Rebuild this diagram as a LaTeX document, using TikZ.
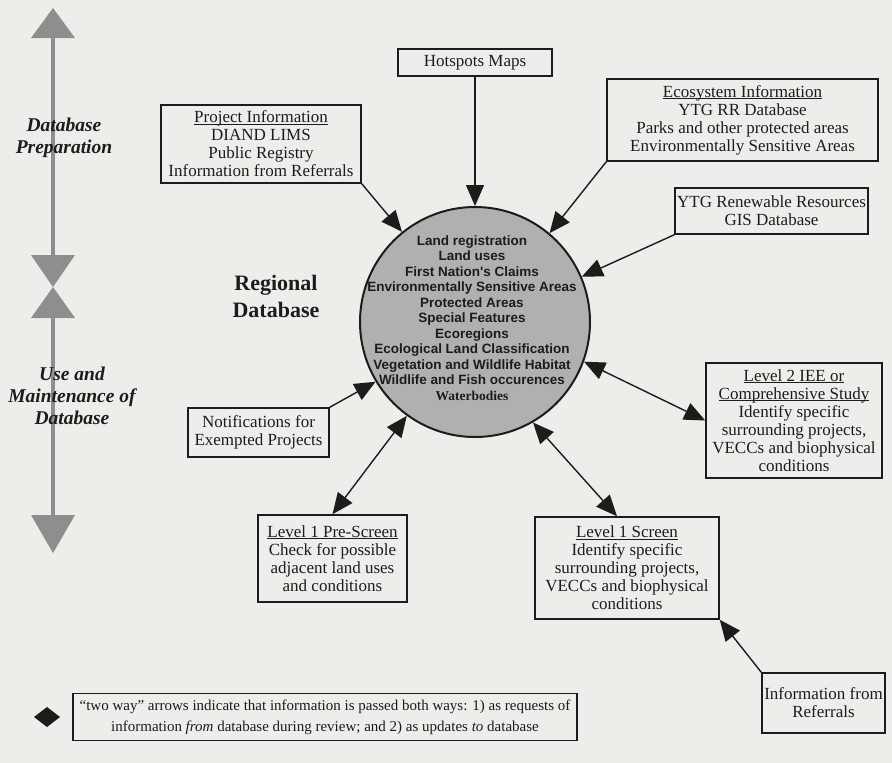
\documentclass[tikz,border=0pt]{standalone}
\usepackage{fontspec}
\setmainfont{Liberation Serif}
\newfontfamily\dbfont{Liberation Sans}
\usetikzlibrary{arrows.meta}
\definecolor{paper}{HTML}{EEEDE9}
\definecolor{ink}{HTML}{1C1C1C}
\definecolor{dbgray}{HTML}{B0B0B0}
\definecolor{axisgray}{HTML}{8E8E8E}
% underline sitting close to the baseline, not below the descenders
\newcommand\headline[1]{\setbox0\hbox{#1}\leavevmode\rlap{\rule[-1.6pt]{\wd0}{0.8pt}}\box0}
\begin{document}
\begin{tikzpicture}[x=1pt,y=-1pt,
  infobox/.style={draw=ink, line width=1.5pt, align=center, inner sep=0pt, text=ink,
    font=\fontsize{17}{18}\selectfont},
  link/.style={draw=ink, line width=1.4pt, -{Triangle[length=21pt,width=18pt]}},
  twoway/.style={draw=ink, line width=1.4pt,
    {Triangle[length=21pt,width=18pt]}-{Triangle[length=21pt,width=18pt]}},
  phase/.style={font=\fontsize{19.5}{22}\selectfont\bfseries\itshape, align=center, text=ink},
  axisline/.style={draw=axisgray, line width=4pt},
  axishead/.style={fill=axisgray},
]
\useasboundingbox (0,0) rectangle (892,763);
\fill[paper] (0,0) rectangle (892,763);

% phase axis on the left
\fill[axishead] (31,38) -- (53,8) -- (75,38) -- cycle;
\draw[axisline] (53,38) -- (53,255);
\fill[axishead] (31,255) -- (75,255) -- (53,287) -- cycle;
\fill[axishead] (53,287) -- (75,318) -- (31,318) -- cycle;
\draw[axisline] (53,318) -- (53,515);
\fill[axishead] (31,515) -- (75,515) -- (53,553) -- cycle;
\node[phase] (prep) at (64,138) {Database\\Preparation};
\node[phase] (use) at (72,396) {Use and\\Maintenance of\\Database};

% central database
\node[circle, draw=ink, line width=2pt, fill=dbgray, minimum size=230pt, inner sep=0pt] (db) at (475,322) {};
\node[font=\dbfont\bfseries\fontsize{13.5}{15.5}\selectfont, align=center, text=ink] (dblist) at (472,318)
  {Land registration\\Land uses\\First Nation's Claims\\Environmentally Sensitive Areas\\Protected Areas\\
   Special Features\\Ecoregions\\Ecological Land Classification\\Vegetation and Wildlife Habitat\\
   Wildlife and Fish occurences\\{\rmfamily\bfseries Waterbodies}};
\node[font=\bfseries\fontsize{22}{27}\selectfont, align=center, text=ink] (reg) at (276,296) {Regional\\Database};

% sources and users
\node[infobox, minimum width=154pt, minimum height=27pt] (hot) at (475,62.5) {Hotspots Maps};
\node[infobox, minimum width=200pt, minimum height=78pt] (proj) at (261,144)
  {\headline{Project Information}\\DIAND LIMS\\Public Registry\\Information from Referrals};
\node[infobox, minimum width=271pt, minimum height=82pt] (eco) at (742.5,120)
  {\headline{Ecosystem Information}\\YTG RR Database\\Parks and other protected areas\\Environmentally Sensitive Areas};
\node[infobox, minimum width=193pt, minimum height=46pt] (ytg) at (771.5,211)
  {YTG Renewable Resources\\GIS Database};
\node[infobox, minimum width=176pt, minimum height=115pt] (lev2) at (794,420.5)
  {\headline{Level 2 IEE or}\\\headline{Comprehensive Study}\\Identify specific\\surrounding projects,\\VECCs and biophysical\\conditions};
\node[infobox, minimum width=184pt, minimum height=102pt] (scr) at (627,568)
  {\headline{Level 1 Screen}\\Identify specific\\surrounding projects,\\VECCs and biophysical\\conditions};
\node[infobox, minimum width=149pt, minimum height=87pt] (pre) at (332.5,558.5)
  {\headline{Level 1 Pre-Screen}\\Check for possible\\adjacent land uses\\and conditions};
\node[infobox, minimum width=141pt, minimum height=49pt] (notif) at (258.5,432.5)
  {Notifications for\\Exempted Projects};
\node[infobox, minimum width=123pt, minimum height=60pt] (ref) at (823.5,703)
  {Information from\\Referrals};

% connectors
\draw[link] (hot.south) -- (db.north);
\draw[link] (proj.south east) -- (db.129);
\draw[link] (eco.south west) -- (db.50);
\draw[link] (ytg.south west) -- (db.23);
\draw[twoway] (db.-20) -- (lev2.west);
\draw[twoway] (db.-60) -- ([xshift=-10pt]scr.north);
\draw[twoway] (db.234) -- (pre.north);
\draw[link] (notif.north east) -- (db.211);
\draw[link] (ref.north west) -- (scr.south east);

% legend
\fill[ink] (34,717) -- (47,707) -- (60,717) -- (47,727) -- cycle;
\node[draw=ink, line width=1.2pt, align=center, inner sep=0pt, text=ink,
  font=\fontsize{15}{21}\selectfont, minimum width=504pt, minimum height=47pt] (legend) at (325,717)
  {“two way” arrows indicate that information is passed both ways: 1) as requests of\\
   information \textit{from} database during review; and 2) as updates \textit{to} database};
\end{tikzpicture}
\end{document}
